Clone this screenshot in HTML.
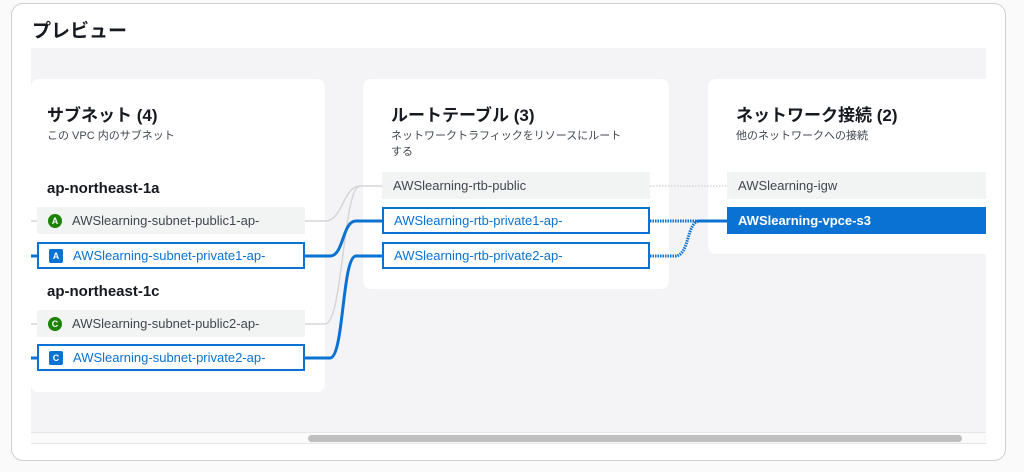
<!DOCTYPE html>
<html><head><meta charset="utf-8"><style>
*{margin:0;padding:0;box-sizing:border-box}
body{width:1024px;height:472px;background:#fafafa;font-family:"Liberation Sans","Noto Sans CJK JP",sans-serif;position:relative;overflow:hidden}
.outer{position:absolute;left:11px;top:3px;width:995px;height:458px;background:#fff;border:1px solid #d0d0d3;border-radius:12px}
.title{position:absolute;left:32px;top:16px;font-size:19px;font-weight:bold;color:#16191f}
.gray{position:absolute;left:31px;top:48px;width:955px;height:384px;background:#f4f4f6}
.sb{position:absolute;left:31px;top:432px;width:955px;height:12px;background:#fafafa;border-top:1px solid #e6e6e6;border-bottom:1px solid #e6e6e6}
.thumb{position:absolute;left:308px;top:435px;width:654px;height:7px;background:#bfbfbf;border-radius:4px}
.card{position:absolute;background:#fff;border-radius:8px}
.h{position:absolute;font-size:17px;font-weight:bold;color:#16191f}
.d{position:absolute;font-size:11px;color:#414750;line-height:16px}
.az{position:absolute;font-size:15px;font-weight:bold;color:#16191f}
.row{position:absolute;height:27px;font-size:13px;line-height:25px;padding-left:10px;white-space:nowrap;color:#414750;background:#f2f3f3;border:1px solid transparent}
.row.sel{background:#fff;border:2px solid #0972d3;color:#0972d3;line-height:23px}
.row.fill{background:#0972d3;color:#fff;font-weight:bold}
.ic{display:inline-block;width:14px;height:14px;border-radius:50%;background:#1d8102;color:#fff;font-size:9px;font-weight:bold;text-align:center;line-height:14px;margin-right:10px;vertical-align:middle;position:relative;top:-1px}
.ic.sq{border-radius:2px;background:#0972d3}
svg{position:absolute;left:0;top:0}
</style></head><body>
<div class="outer"></div>
<div class="title">プレビュー</div>
<div class="gray"></div>
<div class="sb"></div><div class="thumb"></div>
<div class="card" style="left:31px;top:79px;width:294px;height:313px"></div>
<div class="card" style="left:363px;top:79px;width:306px;height:210px"></div>
<div class="card" style="left:708px;top:79px;width:278px;height:175px;border-radius:8px 0 0 8px"></div>
<svg width="1024" height="472">
<g fill="none" stroke="#d5d5d8" stroke-width="1.5">
<path d="M31 221H37M31 324H37"/>
<path d="M305 221H325C343 221 343 186 360 186H382"/>
<path d="M305 324H325C343 324 343 186 360 186"/>
</g>
<path d="M650 186H727" stroke="#d5d5d8" stroke-width="1.5" stroke-dasharray="1.5 1.5" fill="none"/>
<g fill="none" stroke="#0972d3" stroke-width="3">
<path d="M31 256H37M31 358H37"/>
<path d="M305 256H330C344 256 342 221 356 221H382"/>
<path d="M305 358H330C344 358 342 256 356 256H382"/>
</g>
<g fill="none" stroke="#0972d3" stroke-width="3" stroke-dasharray="1.5 1">
<path d="M650 221H727"/>
<path d="M650 256H675C690 256 686 221 700 221H727"/>
</g>
</svg>
<div class="h" style="left:47px;top:101px">サブネット (4)</div>
<div class="d" style="left:47px;top:128px">この VPC 内のサブネット</div>
<div class="az" style="left:47px;top:180px">ap-northeast-1a</div>
<div class="row" style="left:37px;top:207px;width:268px"><span class="ic">A</span>AWSlearning-subnet-public1-ap-</div>
<div class="row sel" style="left:37px;top:242px;width:268px"><span class="ic sq">A</span>AWSlearning-subnet-private1-ap-</div>
<div class="az" style="left:47px;top:283px">ap-northeast-1c</div>
<div class="row" style="left:37px;top:310px;width:268px"><span class="ic">C</span>AWSlearning-subnet-public2-ap-</div>
<div class="row sel" style="left:37px;top:344px;width:268px"><span class="ic sq">C</span>AWSlearning-subnet-private2-ap-</div>
<div class="h" style="left:391px;top:101px">ルートテーブル (3)</div>
<div class="d" style="left:391px;top:128px">ネットワークトラフィックをリソースにルート<br>する</div>
<div class="row" style="left:382px;top:172px;width:268px">AWSlearning-rtb-public</div>
<div class="row sel" style="left:382px;top:207px;width:268px">AWSlearning-rtb-private1-ap-</div>
<div class="row sel" style="left:382px;top:242px;width:268px">AWSlearning-rtb-private2-ap-</div>
<div class="h" style="left:736px;top:101px">ネットワーク接続 (2)</div>
<div class="d" style="left:736px;top:128px">他のネットワークへの接続</div>
<div class="row" style="left:727px;top:172px;width:259px">AWSlearning-igw</div>
<div class="row fill" style="left:727px;top:207px;width:259px">AWSlearning-vpce-s3</div>
</body></html>
